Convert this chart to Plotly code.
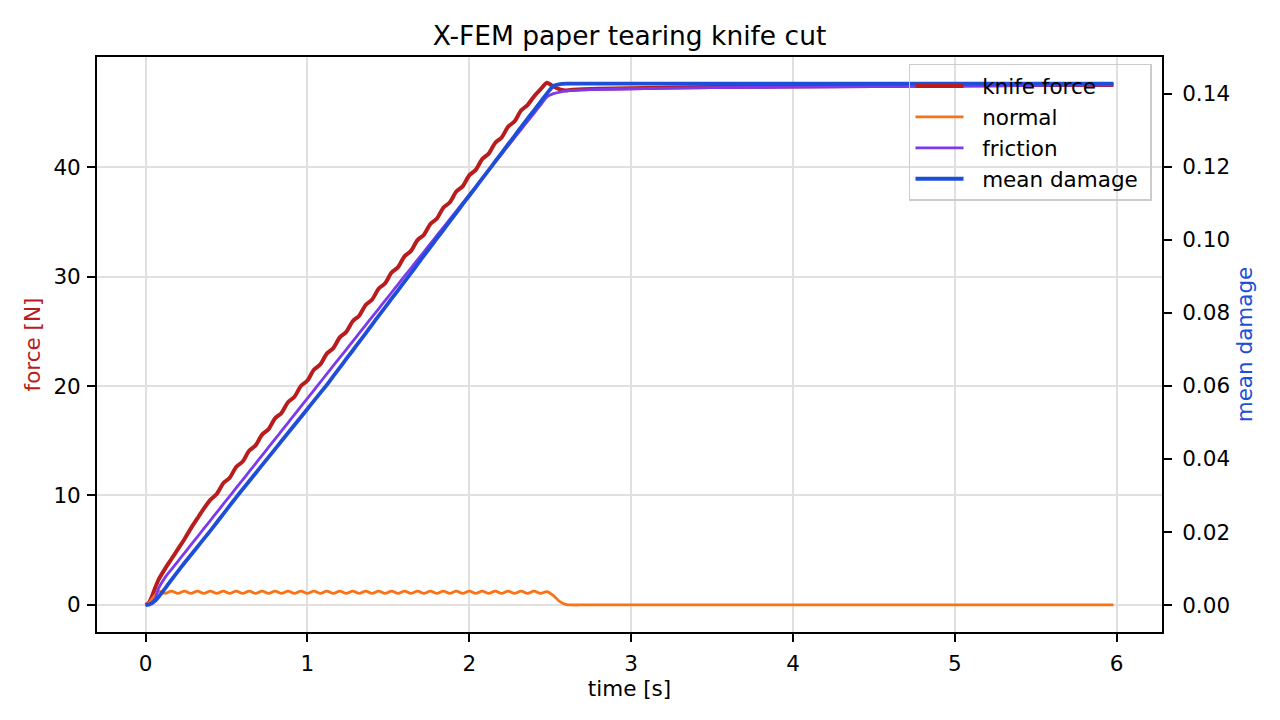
import plotly.graph_objects as go

# ---- data ----
time_s = [0, 0.02, 0.04, 0.06,
          0.08, 0.12, 0.16, 0.20, 0.24, 0.28, 0.32, 0.36, 0.40, 0.44, 0.48,
          0.52, 0.56, 0.60, 0.64, 0.68, 0.72, 0.76, 0.80, 0.84, 0.88,
          0.92, 0.96, 1.00, 1.04, 1.08, 1.12, 1.16, 1.20, 1.24, 1.28,
          1.32, 1.36, 1.40, 1.44, 1.48, 1.52, 1.56, 1.60, 1.64, 1.68,
          1.72, 1.76, 1.80, 1.84, 1.88, 1.92, 1.96, 2.00, 2.04, 2.08,
          2.12, 2.16, 2.20, 2.24, 2.28, 2.32, 2.36, 2.40, 2.44, 2.48,
          2.52, 2.56, 2.60, 2.64, 2.70, 2.80, 3.0, 3.5, 4.0, 4.5, 5.0, 5.5, 5.98]

knife_force = [0, 0.2, 0.8, 1.6,
               2.3, 3.3, 4.2, 5.1, 6.0, 7.0, 7.9, 8.8, 9.6, 10.14, 11.12,
               11.62, 12.60, 13.10, 14.08, 14.58, 15.56, 16.06, 17.04, 17.54, 18.52,
               19.02, 20.00, 20.50, 21.48, 21.98, 22.96, 23.46, 24.44, 24.94, 25.92,
               26.42, 27.40, 27.90, 28.88, 29.38, 30.36, 30.86, 31.84, 32.34, 33.32,
               33.82, 34.80, 35.30, 36.28, 36.78, 37.76, 38.26, 39.24, 39.74, 40.72,
               41.22, 42.20, 42.70, 43.68, 44.18, 45.16, 45.66, 46.45, 47.1, 47.7,
               47.35, 47.1, 47.0, 47.05, 47.1, 47.15, 47.2, 47.3, 47.35, 47.4, 47.45, 47.5, 47.5]

normal = [0, 0.15, 0.55, 0.95,
          1.25, 1.06, 1.27, 1.05, 1.27, 1.05, 1.27, 1.05, 1.27, 1.05, 1.27,
          1.05, 1.27, 1.05, 1.27, 1.05, 1.27, 1.05, 1.27, 1.05, 1.27,
          1.05, 1.27, 1.05, 1.27, 1.05, 1.27, 1.05, 1.27, 1.05, 1.27,
          1.05, 1.27, 1.05, 1.27, 1.05, 1.27, 1.05, 1.27, 1.05, 1.27,
          1.05, 1.27, 1.05, 1.27, 1.05, 1.27, 1.05, 1.27, 1.05, 1.27,
          1.05, 1.27, 1.05, 1.27, 1.05, 1.27, 1.05, 1.27, 1.05, 1.22,
          0.85, 0.3, 0.03, 0, 0, 0, 0, 0, 0, 0, 0, 0, 0]

friction = [0, 0.05, 0.25, 0.6,
            1.5, 2.5, 3.25, 3.99, 4.73, 5.48, 6.22, 6.97, 7.71, 8.45, 9.20,
            9.94, 10.69, 11.43, 12.17, 12.92, 13.66, 14.41, 15.15, 15.89, 16.64,
            17.38, 18.13, 18.87, 19.61, 20.36, 21.10, 21.85, 22.59, 23.33, 24.08,
            24.82, 25.57, 26.31, 27.05, 27.80, 28.54, 29.29, 30.03, 30.77, 31.52,
            32.26, 33.01, 33.75, 34.49, 35.24, 35.98, 36.73, 37.47, 38.21, 38.96,
            39.70, 40.45, 41.19, 41.93, 42.68, 43.42, 44.17, 44.91, 45.65, 46.40,
            46.7, 46.85, 46.95, 47.0, 47.05, 47.1, 47.15, 47.25, 47.3, 47.35, 47.4, 47.45, 47.5]

mean_damage = [0, 0.0001, 0.0005, 0.0012,
               0.0022, 0.0045, 0.0069, 0.0092, 0.0115, 0.0137, 0.0159, 0.0181, 0.0203, 0.0226, 0.0249,
               0.0272, 0.0295, 0.0317, 0.0339, 0.0361, 0.0383, 0.0405, 0.0427, 0.0449, 0.0471,
               0.0493, 0.0515, 0.0537, 0.0559, 0.0581, 0.0603, 0.0627, 0.0650, 0.0674, 0.0697,
               0.0721, 0.0744, 0.0768, 0.0792, 0.0815, 0.0839, 0.0862, 0.0886, 0.0909, 0.0933,
               0.0957, 0.0980, 0.1004, 0.1027, 0.1051, 0.1074, 0.1098, 0.1121, 0.1144, 0.1168,
               0.1191, 0.1215, 0.1238, 0.1262, 0.1285, 0.1309, 0.1332, 0.1355, 0.1378, 0.1401,
               0.1422, 0.1427, 0.1428, 0.1428, 0.1428, 0.1428, 0.1428, 0.1428, 0.1428, 0.1428, 0.1428, 0.1428, 0.1428]

x_ticks = [0, 1, 2, 3, 4, 5, 6]
force_ticks = [0, 10, 20, 30, 40]
damage_ticks = [0.00, 0.02, 0.04, 0.06, 0.08, 0.10, 0.12, 0.14]

FONT = "DejaVu Sans"
RED = "#b91c1c"
ORANGE = "#f97316"
PURPLE = "#7c3aed"
BLUE = "#1d4ed8"
PAD = "\u00a0\u00a0"

fig = go.Figure()
fig.add_trace(go.Scatter(x=time_s, y=knife_force, name=PAD + "knife force", mode="lines",
                         line=dict(color=RED, width=4, shape="spline", smoothing=0.6)))
fig.add_trace(go.Scatter(x=time_s, y=normal, name=PAD + "normal", mode="lines",
                         line=dict(color=ORANGE, width=2.8, shape="spline", smoothing=0.8)))
fig.add_trace(go.Scatter(x=time_s, y=friction, name=PAD + "friction", mode="lines",
                         line=dict(color=PURPLE, width=2.8, shape="spline", smoothing=0.6)))
fig.add_trace(go.Scatter(x=time_s, y=mean_damage, name=PAD + "mean damage\u00a0", mode="lines", yaxis="y2",
                         line=dict(color=BLUE, width=3.8, shape="spline", smoothing=0.6)))

axis_common = dict(showline=True, linecolor="black", linewidth=1.8, ticks="outside",
                   ticklen=8, tickwidth=1.8, tickcolor="black", zeroline=False,
                   tickfont=dict(family=FONT, size=21.5, color="black"))

fig.update_layout(
    width=1280, height=720,
    margin=dict(l=97, r=118, t=57, b=88),
    paper_bgcolor="white", plot_bgcolor="white",
    font=dict(family=FONT, size=21.5, color="black"),
    title=dict(text="X-FEM paper tearing knife cut", x=0.4918, xanchor="center",
               y=1 - 36 / 720, yanchor="middle", yref="container",
               font=dict(family=FONT, size=26.5, color="black")),
    xaxis=dict(range=[-0.30, 6.28], tickvals=x_ticks, ticktext=[str(v) for v in x_ticks],
               mirror=True, showgrid=True, gridcolor="#e0e0e0", gridwidth=1.5,
               title=dict(text="time [s]", font=dict(family=FONT, size=21.5), standoff=0),
               ticklabelstandoff=3, **axis_common),
    yaxis=dict(range=[-2.47, 50.05], tickvals=force_ticks, ticktext=[str(v) for v in force_ticks],
               mirror=True, showgrid=True, gridcolor="#e0e0e0", gridwidth=1.5,
               title=dict(text="force [N]", font=dict(family=FONT, size=21.5, color=RED), standoff=7),
               ticklabelstandoff=2, **axis_common),
    yaxis2=dict(range=[-0.0074, 0.1501], tickvals=damage_ticks,
                ticktext=[f"{v:.2f}" for v in damage_ticks],
                overlaying="y", side="right", showgrid=False,
                title=dict(text="mean damage", font=dict(family=FONT, size=21.5, color=BLUE), standoff=8),
                ticklabelstandoff=6, **axis_common),
    legend=dict(x=0.9906, y=0.988, xanchor="right", yanchor="top",
                bgcolor="rgba(255,255,255,0)", bordercolor="#cccccc", borderwidth=1.5,
                font=dict(family=FONT, size=21.5, color="black"), itemwidth=48,
                tracegroupgap=0),
    showlegend=True,
)

fig.write_html("out.html")
